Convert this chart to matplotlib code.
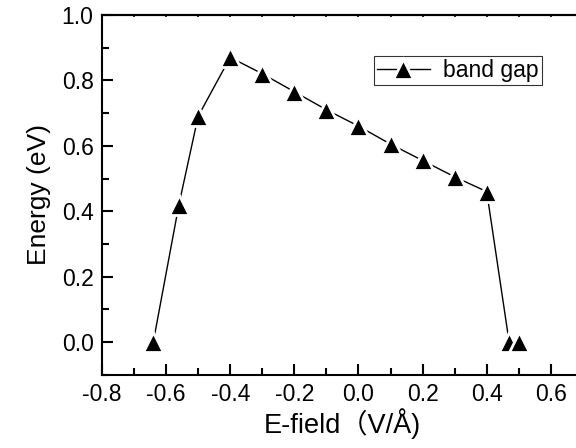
import numpy as np
import matplotlib
matplotlib.use('Agg')
import matplotlib.pyplot as plt
from matplotlib.ticker import MultipleLocator, FormatStrFormatter

# band gap vs applied field
e_field = [-0.64, -0.56, -0.50, -0.40, -0.30, -0.20, -0.10, 0.00,
           0.10, 0.20, 0.30, 0.40, 0.47, 0.50]
band_gap = [0.00, 0.42, 0.69, 0.87, 0.82, 0.765, 0.71, 0.66,
            0.605, 0.555, 0.505, 0.46, 0.00, 0.00]

plt.rcParams['font.family'] = ['Liberation Sans', 'Noto Sans CJK SC']

fig = plt.figure(figsize=(5.76, 4.48), dpi=100)
ax = fig.add_axes([0.177, 0.163, 0.835, 0.804])

ax.plot(e_field, band_gap, color='black', lw=1.0, marker='^', ms=14,
        mfc='black', mec='white', mew=2, label='band gap')

ax.set_xlim(-0.8, 0.7)
ax.set_ylim(-0.1, 1.0)
ax.xaxis.set_major_locator(MultipleLocator(0.2))
ax.xaxis.set_minor_locator(MultipleLocator(0.1))
ax.yaxis.set_major_locator(MultipleLocator(0.2))
ax.yaxis.set_minor_locator(MultipleLocator(0.1))
ax.xaxis.set_major_formatter(FormatStrFormatter('%.1f'))
ax.yaxis.set_major_formatter(FormatStrFormatter('%.1f'))

for s in ax.spines.values():
    s.set_linewidth(1.5)
ax.spines['right'].set_visible(False)

ax.tick_params(which='major', direction='in', length=8, width=1.5,
               labelsize=16.5, pad=6)
ax.tick_params(which='minor', direction='in', length=5, width=1.5)

# tiny marks along the top edge
top = ax.secondary_xaxis('top')
top.xaxis.set_major_locator(MultipleLocator(0.1))
top.tick_params(which='major', direction='in', length=1.5, width=1.2,
                labeltop=False)
top.tick_params(which='minor', length=0)
top.spines['top'].set_linewidth(1.5)

ax.set_xlabel('E-field（V/Å)', fontsize=19.5, labelpad=1)
ax.set_ylabel('Energy (eV)', fontsize=19, labelpad=8)

leg = ax.legend(loc='upper left', bbox_to_anchor=(0.566, 0.885), fontsize=16.5,
                frameon=True, fancybox=False, handlelength=2.3,
                borderpad=0.12, handletextpad=0.6, borderaxespad=0)
leg.get_frame().set_edgecolor('black')
leg.get_frame().set_linewidth(0.8)

fig.savefig('out.png', dpi=100)
